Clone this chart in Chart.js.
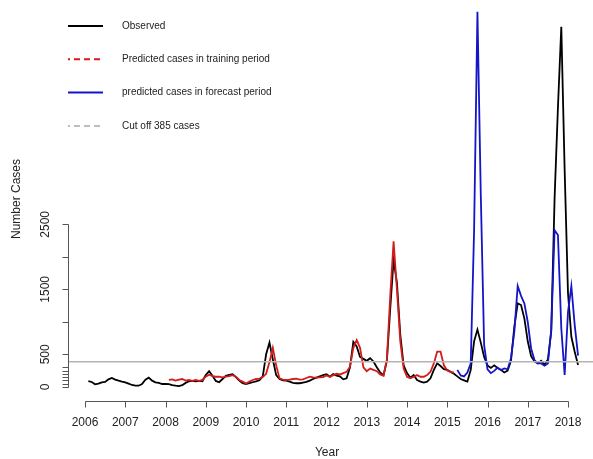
<!DOCTYPE html>
<html>
<head>
<meta charset="utf-8">
<script src="https://cdn.jsdelivr.net/npm/chart.js@4.4.1/dist/chart.umd.min.js"></script>
<style>
  html, body { margin: 0; padding: 0; background: #fff; }
</style>
</head>
<body>
<canvas id="caseChart" width="593" height="459"></canvas>
<script>
// monthly counts; month index 0 = Jan 2006
const observedStart = 1;
const observed = [
  89, 74, 38, 48, 69, 74, 115, 136, 110, 95, 79, 69,
  48, 28, 17, 17, 43, 110, 141, 95, 69, 59, 43, 43,
  40, 25, 17, 12, 25, 60, 85, 90, 85, 90, 85, 180,
  240, 170, 90, 70, 120, 170, 185, 195, 150, 95, 55, 43,
  55, 70, 85, 100, 160, 500, 680, 420, 180, 120, 100, 95,
  80, 60, 55, 55, 65, 75, 95, 120, 140, 160, 180, 195,
  155, 195, 170, 160, 115, 130, 300, 690, 620, 460, 430, 400,
  440, 390, 300, 220, 180, 400, 1200, 1950, 1600, 800, 330, 210,
  140, 180, 105, 80, 65, 80, 130, 260, 360, 320, 270, 260,
  230, 200, 160, 120, 100, 80, 260, 700, 880, 680, 460, 330,
  290, 330, 290, 260, 220, 250, 400, 925, 1285, 1258, 1050, 700,
  470, 390, 360, 400, 340, 420, 850, 2900, 4300, 5540, 3335, 1440,
  770, 540, 335
];

const trainingStart = 25;
const trainingPred = [
  105, 115, 95, 110, 120, 95, 105, 90, 105, 90, 105, 155,
  185, 165, 155, 155, 145, 155, 165, 180, 155, 105, 80, 50,
  80, 105, 120, 125, 150, 200, 380, 600, 330, 130, 110, 105,
  110, 120, 125, 110, 115, 135, 155, 145, 140, 145, 150, 175,
  150, 180, 200, 190, 210, 230, 310, 600, 720, 600, 300, 240,
  280, 260, 240, 190, 170, 420, 1400, 2240, 1500, 700, 280, 155,
  130, 155, 180, 155, 155, 180, 232, 360, 540, 540, 330, 250,
  230, 217
];

const forecastStart = 111;
const forecastPred = [
  260, 175, 160, 220, 360, 2400, 5770, 2950, 640, 270,
  210, 245, 296, 258, 284, 270, 440, 850, 1550, 1400,
  1282, 1000, 590, 412, 360, 360, 325, 360, 874, 2410,
  2335, 900, 182, 1150, 1550, 950, 480
];

const cutoff = 385;
const yearTicks = [2006, 2007, 2008, 2009, 2010, 2011, 2012, 2013, 2014, 2015, 2016, 2017, 2018];
const yTicks = [0, 50, 100, 150, 200, 250, 300, 500, 1000, 1500, 2000, 2500];
const yLabels = [0, 500, 1500, 2500];

const legendItems = [
  { text: "Observed", color: "#000000", dash: [] },
  { text: "Predicted cases in training period", color: "#d41c1c", dash: [6, 4] },
  { text: "predicted cases in forecast period", color: "#1414c8", dash: [] },
  { text: "Cut off 385 cases", color: "#bdbdbd", dash: [6, 4] },
];

const X_MIN = 2005.6025, X_MAX = 2018.621;
const Y_MIN = -233.8, Y_MAX = 5950.8;
const FONT = '"Liberation Sans", Arial, sans-serif';

function toPoints(values, start) {
  return values.map(function (v, k) {
    return { x: 2006 + (start + k) / 12, y: v };
  });
}

// R style axes, titles and legend
const rAxes = {
  id: "rAxes",
  afterDraw(chart) {
    const ctx = chart.ctx;
    const xs = chart.scales.x, ys = chart.scales.y;
    const area = chart.chartArea;
    const ax = area.left - 0.5, ay = Math.round(area.bottom) - 0.5;

    ctx.save();
    ctx.strokeStyle = "#555";
    ctx.lineWidth = 1;
    ctx.fillStyle = "#222";

    // x axis
    const x0 = Math.round(xs.getPixelForValue(yearTicks[0])) + 0.5;
    const x1 = Math.round(xs.getPixelForValue(yearTicks[yearTicks.length - 1])) + 0.5;
    ctx.beginPath();
    ctx.moveTo(x0, ay);
    ctx.lineTo(x1, ay);
    yearTicks.forEach(function (t) {
      const px = Math.round(xs.getPixelForValue(t)) + 0.5;
      ctx.moveTo(px, ay);
      ctx.lineTo(px, ay + 6);
    });
    ctx.stroke();
    ctx.font = "12px " + FONT;
    ctx.textAlign = "center";
    ctx.textBaseline = "middle";
    yearTicks.forEach(function (t) {
      ctx.fillText(String(t), xs.getPixelForValue(t), 423);
    });

    // y axis
    const yb = Math.round(ys.getPixelForValue(0)) + 0.5;
    const yt = Math.round(ys.getPixelForValue(2500)) + 0.5;
    ctx.beginPath();
    ctx.moveTo(ax, yb);
    ctx.lineTo(ax, yt);
    yTicks.forEach(function (v) {
      const py = Math.round(ys.getPixelForValue(v)) + 0.5;
      ctx.moveTo(ax, py);
      ctx.lineTo(ax - 6, py);
    });
    ctx.stroke();
    yLabels.forEach(function (v) {
      ctx.save();
      ctx.translate(46, ys.getPixelForValue(v));
      ctx.rotate(-Math.PI / 2);
      ctx.fillText(String(v), 0, 0);
      ctx.restore();
    });

    // titles
    ctx.fillText("Year", 327, 453);
    ctx.save();
    ctx.translate(17, 199);
    ctx.rotate(-Math.PI / 2);
    ctx.fillText("Number Cases", 0, 0);
    ctx.restore();

    // legend
    ctx.font = "10px " + FONT;
    ctx.textAlign = "left";
    legendItems.forEach(function (item, k) {
      const ly = 26 + k * 33.3;
      ctx.strokeStyle = item.color;
      ctx.lineWidth = 2;
      ctx.setLineDash(item.dash);
      ctx.lineDashOffset = item.dash.length ? 4 : 0;
      ctx.beginPath();
      ctx.moveTo(68, ly);
      ctx.lineTo(103, ly);
      ctx.stroke();
      ctx.setLineDash([]);
      ctx.fillStyle = "#222";
      ctx.fillText(item.text, 122, ly);
    });
    ctx.restore();
  },
};

const data = {
  datasets: [
    {
      label: "Observed",
      data: toPoints(observed, observedStart),
      borderColor: "#000000",
      borderWidth: 1.8,
      order: 4,
    },
    {
      label: "Predicted cases in training period",
      data: toPoints(trainingPred, trainingStart),
      borderColor: "#d41c1c",
      borderWidth: 1.8,
      order: 3,
    },
    {
      label: "predicted cases in forecast period",
      data: toPoints(forecastPred, forecastStart),
      borderColor: "#1414c8",
      borderWidth: 1.8,
      order: 2,
    },
    {
      label: "Cut off 385 cases",
      data: [{ x: X_MIN, y: cutoff }, { x: X_MAX, y: cutoff }],
      borderColor: "#b4b4b4",
      borderWidth: 1.4,
      order: 1,
    },
  ],
};

const config = {
  type: "line",
  data: data,
  options: {
    responsive: false,
    animation: false,
    layout: { padding: { left: 69, right: 0, top: 0, bottom: 57 } },
    elements: { point: { radius: 0 }, line: { tension: 0 } },
    plugins: { legend: { display: false }, tooltip: { enabled: false } },
    scales: {
      x: { type: "linear", min: X_MIN, max: X_MAX, display: false },
      y: { type: "linear", min: Y_MIN, max: Y_MAX, display: false },
    },
  },
  plugins: [rAxes],
};

const caseChart = new Chart(document.getElementById("caseChart"), config);
</script>
</body>
</html>
